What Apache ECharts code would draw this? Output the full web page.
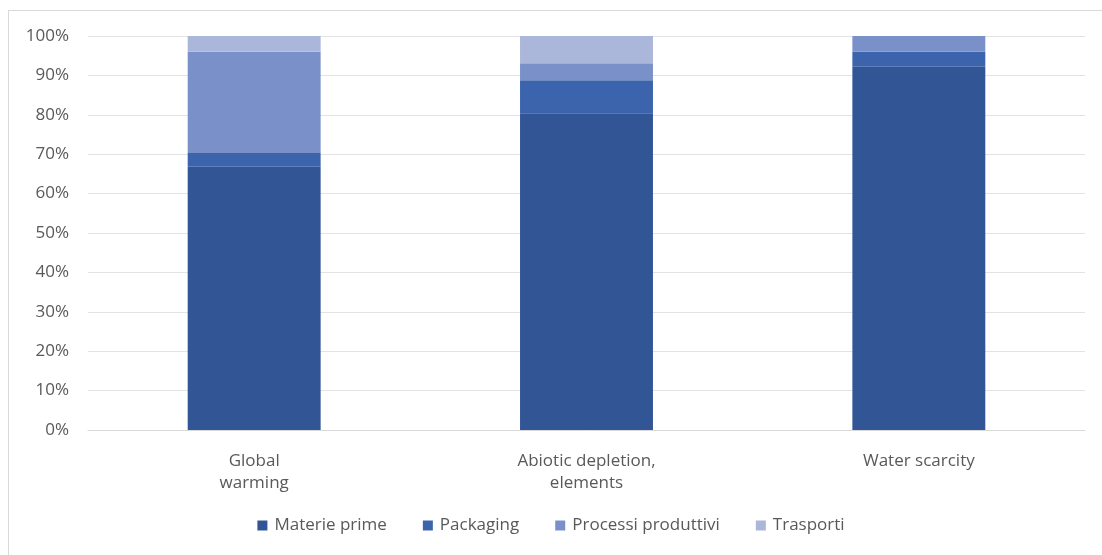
<!DOCTYPE html>
<html>
<head>
<meta charset="utf-8">
<script src="https://cdn.jsdelivr.net/npm/echarts@6/dist/echarts.min.js"></script>
<style>
  html, body { margin: 0; padding: 0; background: #fff; }
  #chart { width: 1102px; height: 555px; }
  #frame { position: absolute; left: 8px; top: 10px; width: 1100px; height: 550px; border: 1px solid #d9d9d9; pointer-events: none; }
</style>
</head>
<body>
<div id="chart"></div>
<div id="frame"></div>
<script>
const categories = ["Global\nwarming", "Abiotic depletion,\nelements", "Water scarcity"];
const seriesNames = ["Materie prime", "Packaging", "Processi produttivi", "Trasporti"];
const materiePrime = [66.8, 80.4, 92.2];
const packaging = [3.5, 8.4, 3.8];
const processiProduttivi = [25.7, 4.3, 4.0];
const trasporti = [4.0, 6.9, 0];
const colors = ["#325596", "#3b64ad", "#7a90c8", "#abb6db"];

const chart = echarts.init(document.getElementById("chart"));
const font = "'Open Sans', sans-serif";
const values = [materiePrime, packaging, processiProduttivi, trasporti];

const option = {
  backgroundColor: "#fff",
  animation: false,
  color: colors,
  grid: { left: 88, right: 17, top: 36, bottom: 125 },
  legend: {
    data: seriesNames,
    bottom: 16,
    left: "center",
    itemWidth: 10,
    itemHeight: 10,
    itemGap: 36,
    icon: "rect",
    textStyle: { fontFamily: font, fontSize: 17, color: "#595959", padding: [0, 0, 0, 2] }
  },
  xAxis: {
    type: "category",
    data: categories,
    axisLine: { lineStyle: { color: "#d9d9d9", width: 1 } },
    axisTick: { show: false },
    axisLabel: { fontFamily: font, fontSize: 17, color: "#595959", margin: 20, lineHeight: 22 }
  },
  yAxis: {
    type: "value",
    min: 0,
    max: 100,
    interval: 10,
    axisLine: { show: false },
    axisTick: { show: false },
    axisLabel: { formatter: "{value}%", fontFamily: font, fontSize: 17, color: "#595959", margin: 19 },
    splitLine: { lineStyle: { color: "#e3e3e3", width: 1 } }
  },
  series: seriesNames.map((name, i) => ({
    name: name,
    type: "bar",
    stack: "total",
    barWidth: "40%",
    data: values[i],
    itemStyle: { color: colors[i] }
  }))
};

chart.setOption(option);
</script>
</body>
</html>
